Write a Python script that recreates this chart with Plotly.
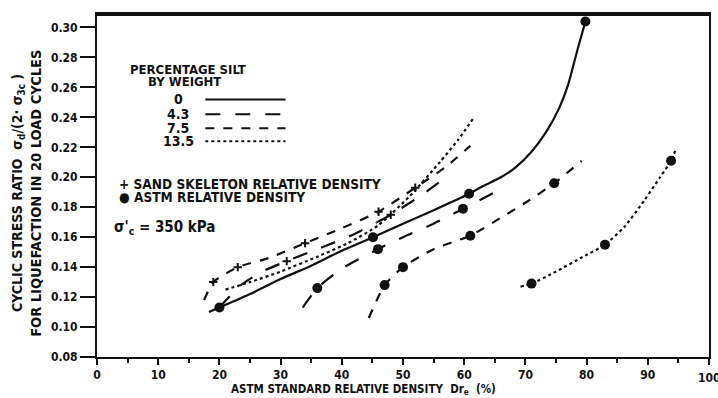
import plotly.graph_objects as go

# ---------------- data ----------------
# ASTM relative density curves (line paths)
s0_x = [18.3, 20, 25, 30, 35, 40, 45.1, 50, 55, 60.8, 63, 66, 68.5, 71, 73.5, 75.5, 77, 78.5, 79.8]
s0_y = [0.110, 0.113, 0.122, 0.132, 0.141, 0.151, 0.160, 0.169, 0.178, 0.189, 0.194, 0.200, 0.207, 0.217, 0.231, 0.246, 0.262, 0.285, 0.304]
s43_x = [33.6, 36, 40, 45.9, 50, 55, 59.8, 65.5]
s43_y = [0.113, 0.126, 0.139, 0.152, 0.160, 0.169, 0.179, 0.191]
s75_x = [44.4, 47, 50, 55, 61, 66, 70, 74.7, 79.2]
s75_y = [0.106, 0.128, 0.140, 0.152, 0.161, 0.173, 0.183, 0.196, 0.211]
s135_x = [69.2, 71, 75, 79, 83, 86.2, 89.5, 92, 93.8, 94.6]
s135_y = [0.127, 0.129, 0.137, 0.146, 0.155, 0.167, 0.185, 0.200, 0.211, 0.219]

# ASTM test points (circles)
astm_x = [20, 45.1, 60.8, 79.8, 36, 45.9, 59.8, 47, 50, 61, 74.7, 71, 83, 93.8]
astm_y = [0.113, 0.160, 0.189, 0.304, 0.126, 0.152, 0.179, 0.128, 0.140, 0.161, 0.196, 0.129, 0.155, 0.211]

# Sand skeleton relative density curves
k43_x = [20, 23.5, 27, 31, 36, 42, 48, 53, 57]
k43_y = [0.113, 0.128, 0.137, 0.144, 0.152, 0.162, 0.175, 0.188, 0.200]
k75_x = [17.5, 19, 23, 28, 34, 40, 46, 52, 57, 61]
k75_y = [0.118, 0.130, 0.140, 0.146, 0.156, 0.166, 0.177, 0.193, 0.207, 0.221]
k135_x = [21, 25, 30, 36, 41, 46, 51, 56, 59, 61.6]
k135_y = [0.125, 0.130, 0.137, 0.147, 0.156, 0.168, 0.187, 0.210, 0.225, 0.240]

# Sand skeleton points ("+")
plus_x = [19, 23, 34, 46, 52, 31, 48]
plus_y = [0.130, 0.140, 0.156, 0.177, 0.193, 0.144, 0.175]

silt_labels = ["0", "4.3", "7.5", "13.5"]
silt_dash = ["solid", "longdash", "dash", "dot"]
legend_y = [0.252, 0.242, 0.2327, 0.224]

xticks = [0, 10, 20, 30, 40, 50, 60, 70, 80, 90, 100]
yticks = [0.08, 0.10, 0.12, 0.14, 0.16, 0.18, 0.20, 0.22, 0.24, 0.26, 0.28, 0.30]

FONT = "Liberation Sans Narrow, DejaVu Sans Condensed, Arial Narrow, Liberation Sans, sans-serif"
BLK = "#111111"

fig = go.Figure()

curves = [(s0_x, s0_y, "solid"), (s43_x, s43_y, "longdash"), (s75_x, s75_y, "dash"), (s135_x, s135_y, "dot"),
          (k43_x, k43_y, "longdash"), (k75_x, k75_y, "dash"), (k135_x, k135_y, "dot")]
for cx, cy, dash in curves:
    fig.add_trace(go.Scatter(x=cx, y=cy, mode="lines",
                             line=dict(color=BLK, width=2.2, dash=dash, shape="spline", smoothing=0.6),
                             showlegend=False, hoverinfo="skip"))

fig.add_trace(go.Scatter(x=astm_x, y=astm_y, mode="markers",
                         marker=dict(symbol="circle", size=10, color=BLK), showlegend=False))
fig.add_trace(go.Scatter(x=plus_x, y=plus_y, mode="markers",
                         marker=dict(symbol="cross-thin", size=6, line=dict(color=BLK, width=2)), showlegend=False))

# legend sample lines
for lab, dash, ly in zip(silt_labels, silt_dash, legend_y):
    fig.add_shape(type="line", xref="x", yref="y", x0=17.7, x1=30.8, y0=ly, y1=ly,
                  line=dict(color=BLK, width=2, dash=dash))
    fig.add_annotation(x=13.3, y=ly, xref="x", yref="y", text="<b>%s</b>" % lab, showarrow=False,
                       xanchor="center", yanchor="middle", font=dict(family=FONT, size=14, color=BLK))

ann = [
    (14.9, 0.2718, "PERCENTAGE SILT", "center", 13),
    (14.3, 0.2640, "BY WEIGHT", "center", 13),
    (3.2, 0.1955, "+ SAND SKELETON RELATIVE DENSITY", "left", 13.6),
    (3.2, 0.1870, "\u25CF ASTM RELATIVE DENSITY", "left", 13.6),
    (2.4, 0.1667, "\u03C3'<sub>c</sub> = 350 kPa", "left", 15),
]
for ax_, ay_, t, anc, fs in ann:
    fig.add_annotation(x=ax_, y=ay_, xref="x", yref="y", text="<b>%s</b>" % t, showarrow=False,
                       xanchor=anc, yanchor="middle", font=dict(family=FONT, size=fs, color=BLK))

# axis titles
fig.add_annotation(xref="paper", yref="paper", x=-0.129, y=0.478, textangle=-90, showarrow=False,
                   text="<b>CYCLIC STRESS RATIO  \u03C3<sub>d</sub>/(2\u00B7 \u03C3<sub>3c</sub> )</b>",
                   font=dict(family=FONT, size=14, color=BLK), xanchor="center", yanchor="middle")
fig.add_annotation(xref="paper", yref="paper", x=-0.100, y=0.478, textangle=-90, showarrow=False,
                   text="<b>FOR LIQUEFACTION IN 20 LOAD CYCLES</b>",
                   font=dict(family=FONT, size=14.5, color=BLK), xanchor="center", yanchor="middle")
fig.add_annotation(xref="paper", yref="paper", x=0.215, y=-0.068, showarrow=False,
                   text="<b>ASTM STANDARD RELATIVE DENSITY  Dr<sub>e</sub>  (%)</b>",
                   font=dict(family=FONT, size=11.5, color=BLK), xanchor="left", yanchor="top")
# last x tick label sits on the page edge (partly cut off, as in the scan)
fig.add_annotation(xref="x", yref="paper", x=xticks[-1], y=-0.035, showarrow=False,
                   text="<b>%d</b>" % xticks[-1], font=dict(family=FONT, size=12, color=BLK),
                   xanchor="center", yanchor="top")

# thick top border
fig.add_shape(type="line", xref="paper", yref="paper", x0=0, x1=1, y0=1, y1=1, line=dict(color=BLK, width=4))

fig.update_xaxes(range=[0, 100], tickvals=xticks, ticktext=["<b>%d</b>" % v for v in xticks[:-1]] + [""],
                 ticks="outside", ticklen=6, tickwidth=2, tickcolor=BLK, automargin=False,
                 minor=dict(dtick=5, ticks="outside", ticklen=4, tickwidth=2, tickcolor=BLK),
                 showline=True, linewidth=2, linecolor=BLK, mirror=True, showgrid=False, zeroline=False,
                 tickfont=dict(family=FONT, size=12, color=BLK))
fig.update_yaxes(range=[0.08, 0.309], tickvals=yticks, ticktext=["<b>%.2f</b>" % v for v in yticks],
                 ticks="outside", ticklen=15, tickwidth=2, tickcolor=BLK, automargin=False,
                 showline=True, linewidth=2, linecolor=BLK, mirror=True, showgrid=False, zeroline=False,
                 tickfont=dict(family=FONT, size=12, color=BLK))

fig.update_layout(width=718, height=398, margin=dict(l=97, r=9, t=14, b=41),
                  plot_bgcolor="white", paper_bgcolor="white", showlegend=False)

fig.write_html("out.html")
